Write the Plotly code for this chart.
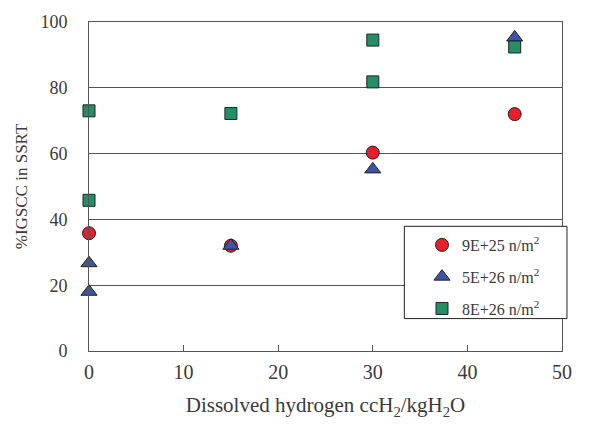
import plotly.graph_objects as go

# Dissolved hydrogen (ccH2/kgH2O) and %IGSCC measured in SSRT, per fluence
x_9e25 = [0, 15, 30, 45]
y_9e25 = [35.8, 32.0, 60.3, 72.0]

x_5e26 = [0, 0, 15, 30, 45]
y_5e26 = [26.7, 18.0, 32.0, 55.2, 95.3]

x_8e26 = [0, 0, 15, 30, 30, 45]
y_8e26 = [73.0, 45.8, 72.2, 94.5, 81.8, 92.4]

series_names = ["9E+25 n/m<sup>2</sup>", "5E+26 n/m<sup>2</sup>", "8E+26 n/m<sup>2</sup>"]
x_ticks = [0, 10, 20, 30, 40, 50]
y_ticks = [0, 20, 40, 60, 80, 100]

FONT = "Liberation Serif"
TXT = "#3a3a3a"
LINE = "#555555"

fig = go.Figure()
styles = [
    dict(symbol="circle", color="#e5202a", size=13),
    dict(symbol="triangle-up", color="#3f54a6", size=14),
    dict(symbol="square", color="#228f67", size=12),
]
for i, (xs, ys) in enumerate([(x_9e25, y_9e25), (x_5e26, y_5e26), (x_8e26, y_8e26)]):
    st = styles[i]
    fig.add_trace(go.Scatter(
        x=xs, y=ys, mode="markers", name=series_names[i], legendgroup=str(i),
        cliponaxis=False,
        marker=dict(symbol=st["symbol"], color=st["color"], size=st["size"],
                    line=dict(color="#222222", width=1)),
    ))

# legend frame
fig.add_shape(type="rect", xref="paper", yref="paper",
              x0=0.6667, x1=1.0105, y0=0.0985, y1=0.379,
              line=dict(color="#222222", width=1), fillcolor="white", layer="above")

fig.update_layout(
    width=605, height=425,
    margin=dict(l=89, r=43, t=18, b=72),
    paper_bgcolor="white", plot_bgcolor="white",
    font=dict(family=FONT, color=TXT, size=18),
    showlegend=True,
    legend=dict(x=0.704, y=0.374, xanchor="left", yanchor="top",
                bgcolor="rgba(0,0,0,0)", borderwidth=0,
                font=dict(size=16, family=FONT, color=TXT),
                tracegroupgap=8, itemwidth=30),
    xaxis=dict(range=[0, 50], tickvals=x_ticks, showgrid=False, zeroline=False,
               showline=True, linecolor=LINE, linewidth=1, mirror=True,
               ticks="inside", ticklen=6, tickcolor=LINE,
               tickfont=dict(size=20), ticklabelstandoff=3,
               title=dict(text="Dissolved hydrogen ccH<sub>2</sub>/kgH<sub>2</sub>O",
                          font=dict(size=21), standoff=15)),
    yaxis=dict(range=[0, 100], tickvals=y_ticks, showgrid=True, gridcolor=LINE,
               gridwidth=1, zeroline=False, showline=True, linecolor=LINE,
               linewidth=1, mirror=True, ticks="", ticklabelstandoff=17,
               tickfont=dict(size=18),
               title=dict(text="%IGSCC in SSRT", font=dict(size=17), standoff=8)),
)

fig.write_html("out.html")
